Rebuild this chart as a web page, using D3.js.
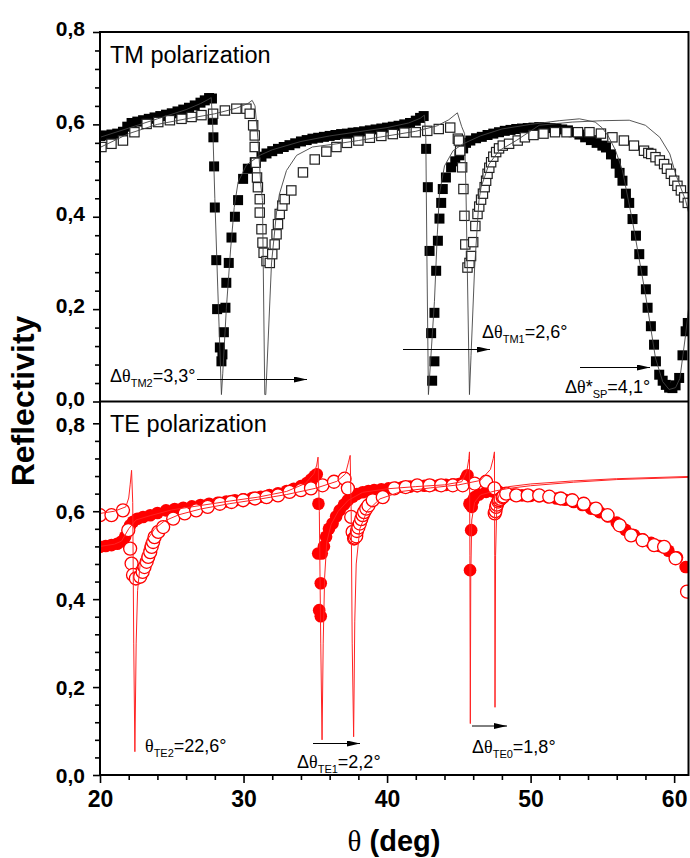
<!DOCTYPE html>
<html><head><meta charset="utf-8">
<script src="https://cdn.jsdelivr.net/npm/d3@7"></script>
<style>
body{margin:0;background:#fff}
svg{display:block}
text{font-family:Arial,"Liberation Sans",sans-serif}
</style>
</head><body>
<svg id="c" width="690" height="858"></svg>
<script>
// ---------------- DATA ----------------
// TM polarization, sample A (filled squares)
const tmFilledX = [20.0,20.4,20.8,21.2,21.6,21.9,22.2,22.6,23.0,23.4,23.8,24.2,24.6,25.0,25.4,25.8,26.2,26.6,27.0,27.3,27.6,27.8,27.85,27.9,27.95,28.0,28.1,28.16,28.35,28.46,28.53,28.63,28.74,28.8,28.97,29.16,29.4,29.62,29.97,30.3,30.78,31.25,31.6,32.0,32.4,32.8,33.2,33.6,34.0,34.4,34.8,35.2,35.6,36.0,36.4,36.8,37.2,37.6,38.0,38.4,38.8,39.2,39.6,40.0,40.4,40.8,41.2,41.6,42.0,42.3,42.55,42.72,42.84,42.96,43.07,43.14,43.3,43.3,43.42,43.54,43.65,43.77,43.88,44.1,44.46,44.75,45.04,45.3,45.5,45.8,46.2,46.6,47.0,47.4,47.8,48.2,48.6,49.0,49.4,49.8,50.2,50.6,51.0,51.4,51.8,52.2,52.6,53.0,53.4,53.8,54.2,54.6,55.0,55.25,55.6,55.94,56.2,56.4,56.64,56.87,57.1,57.34,57.57,57.8,58.03,58.15,58.38,58.6,58.73,58.96,59.2,59.42,59.65,59.88,60.1,60.35,60.58,60.8,60.95];
const tmFilledY = [0.575,0.576,0.578,0.580,0.584,0.595,0.603,0.606,0.609,0.612,0.615,0.618,0.621,0.624,0.628,0.632,0.636,0.641,0.647,0.652,0.657,0.656,0.610,0.572,0.509,0.420,0.306,0.200,0.117,0.087,0.102,0.150,0.203,0.257,0.300,0.355,0.400,0.436,0.482,0.504,0.518,0.530,0.537,0.542,0.547,0.551,0.555,0.559,0.563,0.566,0.569,0.571,0.573,0.575,0.577,0.579,0.580,0.582,0.583,0.585,0.587,0.589,0.591,0.593,0.595,0.597,0.600,0.603,0.608,0.614,0.618,0.547,0.464,0.326,0.148,0.045,0.087,0.192,0.283,0.348,0.396,0.430,0.460,0.485,0.507,0.520,0.533,0.548,0.560,0.565,0.570,0.573,0.577,0.580,0.583,0.586,0.588,0.590,0.591,0.592,0.593,0.594,0.593,0.592,0.591,0.589,0.587,0.583,0.578,0.572,0.566,0.560,0.554,0.550,0.535,0.515,0.495,0.478,0.450,0.430,0.395,0.359,0.319,0.283,0.243,0.203,0.163,0.123,0.087,0.058,0.045,0.036,0.030,0.029,0.035,0.051,0.100,0.152,0.170];

// TM polarization, sample B (open squares)
const tmOpenX = [20.1,20.8,21.6,22.4,23.25,24.06,24.87,25.68,26.38,27.07,27.88,28.7,29.5,30.2,30.43,30.67,30.78,30.78,30.85,30.94,31.0,31.13,31.13,31.25,31.32,31.4,31.6,31.83,32.0,32.17,32.3,32.4,32.52,32.7,32.87,33.33,34.14,34.96,35.77,36.47,37.2,38.0,38.8,39.6,40.4,41.2,42.0,42.8,43.6,44.4,44.93,45.0,45.09,45.23,45.32,45.39,45.45,45.6,45.74,45.85,46.0,46.15,46.3,46.42,46.55,46.68,46.8,46.9,47.0,47.12,47.25,47.4,47.6,47.8,48.06,48.5,49.1,49.6,50.2,50.9,51.7,52.5,53.3,54.1,54.9,55.7,56.5,57.2,57.9,58.2,58.4,58.7,59.0,59.3,59.5,59.77,60.0,60.23,60.47,60.7,60.95];
const tmOpenY = [0.551,0.558,0.565,0.583,0.601,0.605,0.609,0.612,0.616,0.620,0.623,0.630,0.634,0.634,0.623,0.598,0.576,0.551,0.517,0.485,0.464,0.438,0.409,0.373,0.344,0.322,0.304,0.300,0.319,0.340,0.362,0.384,0.406,0.424,0.438,0.457,0.496,0.524,0.541,0.551,0.560,0.565,0.571,0.575,0.579,0.582,0.583,0.586,0.590,0.593,0.569,0.565,0.543,0.507,0.460,0.402,0.340,0.290,0.300,0.315,0.345,0.380,0.406,0.422,0.437,0.450,0.464,0.478,0.493,0.506,0.518,0.530,0.540,0.548,0.554,0.558,0.565,0.572,0.577,0.580,0.583,0.583,0.583,0.583,0.580,0.572,0.565,0.554,0.543,0.538,0.536,0.529,0.522,0.514,0.504,0.493,0.478,0.467,0.457,0.442,0.430];

// TM theory curves
const tmTheoryAX = [20,22,24,26,27,27.6,27.75,27.85,28.0,28.2,28.46,28.55,28.8,29.1,29.35,29.62,30.2,31.13,32,34,36,38,40,41.5,42.3,42.6,42.7,42.78,42.88,43.1,43.3,43.5,43.65,44.0,44.6,45.3,46.5,48,50,52,53.4,54.5,55.0,55.4,55.9,56.4,57.1,58.0,58.7,59.2,59.65,60.1,60.4,60.8,61.0];
const tmTheoryAY = [0.572,0.592,0.612,0.632,0.645,0.655,0.658,0.60,0.44,0.25,0.015,0.06,0.20,0.33,0.42,0.475,0.512,0.533,0.545,0.563,0.575,0.584,0.593,0.603,0.613,0.620,0.570,0.300,0.015,0.120,0.217,0.362,0.450,0.510,0.543,0.558,0.575,0.590,0.600,0.608,0.612,0.605,0.592,0.575,0.545,0.500,0.390,0.232,0.094,0.043,0.026,0.030,0.050,0.145,0.200];
const tmTheoryBX = [20,22,24,26,28,29.5,30.3,30.6,30.8,31.0,31.2,31.32,31.48,31.55,31.95,32.3,32.5,32.99,33.7,34.8,36.5,38,40,42,43.5,44.3,44.9,45.2,45.4,45.5,45.74,45.85,46.1,46.4,46.55,47.1,47.8,49.0,50.6,52.9,55,56.87,58.0,59.0,59.7,60.1,60.8,61];
const tmTheoryBY = [0.550,0.580,0.600,0.612,0.623,0.635,0.645,0.652,0.640,0.570,0.470,0.435,0.015,0.015,0.300,0.410,0.449,0.500,0.533,0.551,0.558,0.565,0.575,0.585,0.597,0.610,0.625,0.595,0.580,0.450,0.015,0.100,0.290,0.435,0.464,0.514,0.543,0.565,0.598,0.605,0.608,0.609,0.598,0.572,0.536,0.493,0.435,0.410];

// TE polarization, sample A (filled circles)
const teFilledX = [20.0,20.4,20.8,21.2,21.5,21.75,21.95,22.1,22.3,22.6,23.0,23.5,24.0,24.6,25.2,25.8,26.4,27.0,27.6,28.2,28.8,29.4,30.0,30.6,31.2,31.8,32.4,33.0,33.5,34.0,34.4,34.7,34.95,35.1,35.22,35.2,35.45,35.38,35.27,35.38,35.6,35.75,35.95,36.2,36.45,36.7,37.0,37.27,37.6,37.9,38.3,38.7,39.1,39.6,40.1,40.6,41.1,41.6,42.1,42.6,43.1,43.6,44.1,44.6,45.0,45.3,45.5,45.6,45.74,45.86,45.78,45.9,46.0,46.1,46.4,46.9,47.4,47.8,48.3,48.8,49.4,50.0,50.6,51.2,51.8,52.4,53.0,53.6,54.2,54.8,55.4,56.0,56.6,57.2,57.8,58.4,59.0,59.6,60.2,60.8];
const teFilledY = [0.519,0.521,0.523,0.526,0.531,0.542,0.556,0.568,0.576,0.583,0.587,0.591,0.596,0.602,0.605,0.608,0.611,0.614,0.617,0.619,0.622,0.625,0.627,0.630,0.633,0.637,0.641,0.646,0.651,0.657,0.664,0.672,0.680,0.684,0.617,0.504,0.504,0.436,0.375,0.361,0.520,0.542,0.560,0.572,0.588,0.602,0.615,0.625,0.633,0.639,0.643,0.646,0.648,0.650,0.652,0.653,0.655,0.656,0.657,0.658,0.659,0.659,0.660,0.661,0.662,0.665,0.675,0.682,0.617,0.557,0.466,0.610,0.625,0.632,0.638,0.644,0.645,0.644,0.640,0.638,0.636,0.635,0.634,0.632,0.629,0.626,0.621,0.614,0.606,0.598,0.588,0.574,0.558,0.546,0.536,0.528,0.521,0.510,0.495,0.473];

// TE polarization, sample B (open circles)
const teOpenX = [20.0,20.8,21.6,21.97,22.1,22.2,22.3,22.5,22.8,22.97,23.1,23.25,23.36,23.5,23.6,23.7,23.8,24.06,24.4,25.1,25.9,26.7,27.5,28.35,29.16,29.97,30.8,31.6,32.4,33.2,34.0,34.7,35.5,36.3,37.04,37.27,37.5,37.6,37.7,37.75,37.85,37.9,38.0,38.1,38.2,38.3,38.4,38.55,38.7,39.0,39.7,40.5,41.3,42.1,42.96,43.77,44.58,45.27,46.1,46.9,47.48,47.5,47.55,47.6,47.65,47.75,47.8,47.9,48.05,48.1,48.3,49.0,49.8,50.6,51.3,52.1,52.9,53.7,54.55,55.36,56.2,57.0,57.8,58.6,59.3,60.1,60.9];
const teOpenY = [0.591,0.591,0.602,0.557,0.515,0.481,0.455,0.447,0.451,0.462,0.473,0.485,0.496,0.507,0.519,0.530,0.541,0.553,0.564,0.583,0.595,0.602,0.610,0.617,0.621,0.625,0.629,0.632,0.636,0.644,0.648,0.652,0.659,0.667,0.674,0.652,0.587,0.553,0.538,0.540,0.543,0.555,0.563,0.572,0.582,0.591,0.598,0.606,0.613,0.625,0.632,0.652,0.655,0.659,0.659,0.659,0.659,0.659,0.663,0.667,0.652,0.595,0.600,0.610,0.615,0.622,0.625,0.628,0.632,0.634,0.640,0.636,0.636,0.636,0.633,0.629,0.625,0.617,0.606,0.591,0.568,0.545,0.534,0.523,0.519,0.493,0.417];

// TE theory curves
const teTheoryBX = [20,21,21.8,22.0,22.1,22.2,22.28,22.35,22.43,22.52,22.62,22.8,23.2,23.8,24.5,25.5,27,29,31,33,35,36.5,37.1,37.3,37.43,37.5,37.57,37.67,37.75,37.85,38.1,38.6,39.5,41,43,45,46.5,47.2,47.4,47.48,47.5,47.52,47.56,47.65,47.9,48.5,50,53,56,61];
const teTheoryBY = [0.595,0.600,0.610,0.630,0.660,0.693,0.620,0.300,0.053,0.300,0.420,0.480,0.530,0.560,0.578,0.592,0.605,0.617,0.627,0.638,0.652,0.668,0.685,0.710,0.727,0.600,0.300,0.087,0.350,0.480,0.560,0.600,0.628,0.645,0.653,0.660,0.670,0.695,0.720,0.735,0.500,0.154,0.500,0.620,0.648,0.656,0.662,0.669,0.674,0.679];
const teTheoryAX = [20,21,21.5,22,22.5,23.5,25,27,29,31,33,34.3,34.9,35.1,35.19,35.28,35.38,35.47,35.55,35.65,35.8,36.1,36.6,37.3,38.3,40,42,44,45.2,45.55,45.7,45.74,45.77,45.8,45.83,45.9,46.1,46.5,47.5,48.5,50,53,56,61];
const teTheoryAY = [0.520,0.525,0.532,0.560,0.580,0.590,0.603,0.613,0.623,0.632,0.645,0.663,0.685,0.705,0.723,0.600,0.300,0.080,0.300,0.450,0.530,0.570,0.600,0.625,0.643,0.651,0.656,0.660,0.667,0.690,0.720,0.735,0.500,0.117,0.450,0.580,0.620,0.637,0.646,0.652,0.658,0.666,0.672,0.677];

// Axis ticks / labels
const xTicks = [20,30,40,50,60];
const xMinor = [22,24,26,28,32,34,36,38,42,44,46,48,52,54,56,58];
const yTicks = [0,0.2,0.4,0.6,0.8];
const yTickLabels = ["0,0","0,2","0,4","0,6","0,8"];
const yMinor = [0.04,0.08,0.12,0.16,0.24,0.28,0.32,0.36,0.44,0.48,0.52,0.56,0.64,0.68,0.72,0.76];

// ---------------- DRAW ----------------
const svg = d3.select("#c");
const L = 100, R = 688.5, T = 32, MID = 401.5, B = 775;
const x = d3.scaleLinear().domain([20,61]).range([L,R]);
const yT = d3.scaleLinear().domain([0,0.8]).range([MID,T]);
const yB = d3.scaleLinear().domain([0,0.8]).range([B,423.3]);

const defs = svg.append("defs");
defs.append("clipPath").attr("id","clipT").append("rect").attr("x",L).attr("y",T).attr("width",R-L).attr("height",MID-T);
defs.append("clipPath").attr("id","clipB").append("rect").attr("x",L).attr("y",MID).attr("width",R-L).attr("height",B-MID);
defs.append("marker").attr("id","ah").attr("viewBox","0 0 13 6").attr("refX",13).attr("refY",3)
  .attr("markerWidth",13).attr("markerHeight",6).attr("markerUnits","userSpaceOnUse").attr("orient","auto")
  .append("path").attr("d","M0,0L13,3L0,6Z").attr("fill","#000");

const zip = (xs, ys) => xs.map((v,i)=>[v, ys[i]]);

// ---- top panel
const gT = svg.append("g").attr("clip-path","url(#clipT)");
const sqF = 10, sqO = 10.5;
gT.append("g").selectAll("rect").data(zip(tmFilledX,tmFilledY)).join("rect")
  .attr("x",d=>x(d[0])-sqF/2).attr("y",d=>yT(d[1])-sqF/2).attr("width",sqF).attr("height",sqF).attr("fill","#000");
gT.append("g").selectAll("rect").data(zip(tmOpenX,tmOpenY)).join("rect")
  .attr("x",d=>x(d[0])-sqO/2+0.6).attr("y",d=>yT(d[1])-sqO/2+0.6).attr("width",sqO-1.2).attr("height",sqO-1.2)
  .attr("fill","#fff").attr("stroke","#222").attr("stroke-width",1.2);
const lineT = d3.line().x(d=>x(d[0])).y(d=>yT(d[1]));
[[tmTheoryAX,tmTheoryAY],[tmTheoryBX,tmTheoryBY]].forEach(([xs,ys])=>{
  gT.append("path").attr("d",lineT(zip(xs,ys))).attr("fill","none").attr("stroke","#444").attr("stroke-width",0.9);
});

// ---- bottom panel
const gB = svg.append("g").attr("clip-path","url(#clipB)");
gB.append("g").selectAll("circle").data(zip(teFilledX,teFilledY)).join("circle")
  .attr("cx",d=>x(d[0])).attr("cy",d=>yB(d[1])).attr("r",6.3).attr("fill","#f00");
gB.append("g").selectAll("circle").data(zip(teOpenX,teOpenY)).join("circle")
  .attr("cx",d=>x(d[0])).attr("cy",d=>yB(d[1])).attr("r",6.5).attr("fill","#fff").attr("stroke","#f00").attr("stroke-width",1.3);
const lineB = d3.line().x(d=>x(d[0])).y(d=>yB(d[1]));
[[teTheoryAX,teTheoryAY],[teTheoryBX,teTheoryBY]].forEach(([xs,ys])=>{
  gB.append("path").attr("d",lineB(zip(xs,ys))).attr("fill","none").attr("stroke","#f22").attr("stroke-width",1);
});

// ---- axes
function styleAxis(g){ g.select(".domain").remove(); g.selectAll(".tick line").attr("stroke","#000").attr("stroke-width",1.6); }
const tickFmt = d => yTickLabels[yTicks.indexOf(d)];
[[yT,-3],[yB,1]].forEach(([ys,shift])=>{
  const gmaj = svg.append("g").attr("transform",`translate(${L},0)`)
    .call(d3.axisLeft(ys).tickValues(yTicks).tickSize(7).tickPadding(8).tickFormat(tickFmt));
  styleAxis(gmaj);
  gmaj.selectAll("text").attr("font-size",21).attr("font-weight","bold").attr("fill","#000")
    .attr("font-family","Arial, 'Liberation Sans', sans-serif").attr("transform",`translate(0,${shift})`);
  const gmin = svg.append("g").attr("transform",`translate(${L},0)`)
    .call(d3.axisLeft(ys).tickValues(yMinor).tickSize(5).tickFormat(""));
  styleAxis(gmin);
});
const gx = svg.append("g").attr("transform",`translate(0,${B})`)
  .call(d3.axisBottom(x).tickValues(xTicks).tickSize(8).tickPadding(8).tickFormat(d3.format("d")));
styleAxis(gx);
gx.selectAll("text").attr("font-size",23).attr("font-weight","bold").attr("fill","#000").attr("font-family","Arial, 'Liberation Sans', sans-serif");
const gxm = svg.append("g").attr("transform",`translate(0,${B})`)
  .call(d3.axisBottom(x).tickValues(xMinor).tickSize(5).tickFormat(""));
styleAxis(gxm);

// ---- frame
const fr = svg.append("g").attr("stroke","#000").attr("stroke-width",2).attr("fill","none");
fr.append("rect").attr("x",L).attr("y",T).attr("width",R-L).attr("height",B-T);
fr.append("line").attr("x1",L).attr("x2",R).attr("y1",MID).attr("y2",MID);

// ---- titles
svg.append("text").attr("transform","translate(34,401) rotate(-90)").attr("text-anchor","middle")
  .attr("font-size",32).attr("font-weight","bold").text("Reflectivity");
const xt = svg.append("text").attr("x",394).attr("y",851).attr("text-anchor","middle").attr("font-size",29).attr("font-weight","bold");
xt.append("tspan").attr("font-family","'Liberation Serif','DejaVu Serif',serif").attr("font-weight","normal").text("θ");
xt.append("tspan").text(" (deg)");

svg.append("text").attr("x",110).attr("y",63).attr("font-size",23.5).text("TM polarization");
svg.append("text").attr("x",110).attr("y",432).attr("font-size",23.5).text("TE polarization");

// ---- annotations
function annot(px, py, parts){
  const t = svg.append("text").attr("x",px).attr("y",py).attr("font-size",18).attr("fill","#000");
  let off = 0;
  parts.forEach(p=>{
    const s = t.append("tspan").text(p.t);
    if (p.serif) s.attr("font-family","'Liberation Serif','DejaVu Serif',serif");
    if (p.sub){ s.attr("font-size",11).attr("dy",5-off); off = 5; }
    else { if (off){ s.attr("dy",-off); off = 0; } }
  });
}
function arrow(x1,x2,yy){
  svg.append("line").attr("x1",x1).attr("x2",x2).attr("y1",yy).attr("y2",yy)
    .attr("stroke","#000").attr("stroke-width",1).attr("marker-end","url(#ah)");
}
annot(110,382,[{t:"Δ"},{t:"θ",serif:true},{t:"TM2",sub:true},{t:"=3,3°"}]);
arrow(197,307,379.5);
annot(482,338,[{t:"Δ"},{t:"θ",serif:true},{t:"TM1",sub:true},{t:"=2,6°"}]);
arrow(403,490,349.5);
annot(565,393,[{t:"Δ"},{t:"θ",serif:true},{t:"*"},{t:"SP",sub:true},{t:"=4,1°"}]);
arrow(580,650,367.5);
annot(145,752,[{t:"θ",serif:true},{t:"TE2",sub:true},{t:"=22,6°"}]);
annot(297,768,[{t:"Δ"},{t:"θ",serif:true},{t:"TE1",sub:true},{t:"=2,2°"}]);
arrow(313,360,743.5);
annot(472,753,[{t:"Δ"},{t:"θ",serif:true},{t:"TE0",sub:true},{t:"=1,8°"}]);
arrow(472,507,726);
</script>
</body></html>
